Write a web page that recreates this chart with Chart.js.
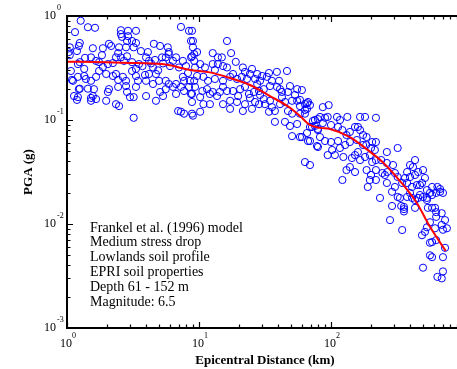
<!DOCTYPE html>
<html>
<head>
<meta charset="utf-8">
<script src="https://cdn.jsdelivr.net/npm/chart.js@4.4.0/dist/chart.umd.min.js"></script>
<style>
html, body { margin: 0; padding: 0; background: #fff; overflow: hidden; }
#wrap { width: 475px; height: 369px; }
</style>
</head>
<body>
<div id="wrap"><canvas id="pga" width="475" height="369"></canvas></div>
<script>
// recorded PGA values: [epicentral distance (km), PGA (g)]
const recordings = [
  [1.27,0.90],[1.44,0.78],[1.63,0.77],[1.15,0.70],[1.25,0.55],[1.23,0.515],[1.05,0.50],[1.05,0.42],[1.57,0.49],[1.87,0.49],
  [2.08,0.54],[2.16,0.515],[2.56,0.73],[2.56,0.67],[2.61,0.63],[2.9,0.72],[2.9,0.64],[2.85,0.575],[3.11,0.575],[3.33,0.72],
  [3.33,0.55],[3.2,0.50],[2.48,0.50],[2.44,0.44],[2.8,0.50],[3.63,0.46],[4.1,0.45],[4.55,0.54],[5.07,0.515],[5.8,0.50],
  [5.9,0.43],[7.3,0.785],[8.4,0.72],[8.7,0.575],[9.2,0.43],
  [1.07,0.296],[1.21,0.345],[1.35,0.31],[1.52,0.40],[1.66,0.37],[1.75,0.36],[1.87,0.323],[2.04,0.345],[2.35,0.40],[2.56,0.40],
  [2.7,0.37],[2.85,0.41],[3.11,0.36],[3.33,0.31],[3.51,0.345],[3.97,0.40],[4.18,0.37],[4.48,0.32],[4.9,0.30],[5.25,0.40],
  [5.6,0.40],[5.9,0.45],[6.35,0.37],[6.7,0.40],[7.55,0.37],[7.97,0.33],[8.7,0.40],[9.2,0.37],
  [1.11,0.238],[1.21,0.26],[1.35,0.265],[1.39,0.248],[1.52,0.238],[1.66,0.26],[1.75,0.296],[1.98,0.277],[2.23,0.265],[2.35,0.277],
  [2.65,0.26],[2.8,0.238],[3.11,0.296],[3.33,0.265],[3.45,0.238],[3.97,0.238],[4.18,0.277],[4.72,0.277],[4.98,0.238],[5.6,0.238],
  [5.9,0.222],[6.7,0.222],[7.55,0.26],[7.7,0.238],[8.4,0.208],[9.2,0.238],
  [1.23,0.198],[1.13,0.17],[1.21,0.166],[1.6,0.198],[1.57,0.17],[1.52,0.153],[1.66,0.159],[2.08,0.198],[2.04,0.186],[2.44,0.208],
  [2.8,0.212],[2.85,0.186],[3.33,0.208],[3.97,0.17],[4.72,0.153],[5.34,0.17],[5.6,0.198],[6.35,0.208],[6.7,0.178],[7.3,0.208],
  [7.7,0.19],[8.7,0.178],
  [1.98,0.153],[2.35,0.142],[2.48,0.136],[3.2,0.166],[6.95,0.122],[7.3,0.12],[7.7,0.115],[9.0,0.11],[3.2,0.105],
  [1.03,0.45],[1.19,0.46],[1.09,0.243],[1.25,0.20],[1.19,0.156],[1.52,0.163],[1.25,0.36],
  [3.73,0.33],[4.33,0.35],[5.34,0.35],[6.03,0.33],[7.05,0.32],[4.64,0.378],[8.25,0.283],
  [1.37,0.396],[1.84,0.42],[2.23,0.353],[3.9,0.271],[4.48,0.222],[5.07,0.186],[3.0,0.166],[2.44,0.243],[1.44,0.20],
  [8.85,0.72],[9.0,0.575],[16.3,0.575],[9.0,0.50],[9.67,0.45],[8.85,0.41],[12.7,0.44],[13.9,0.40],[14.9,0.40],[17.5,0.44],
  [12.7,0.345],[13.9,0.345],[15.2,0.33],[16.3,0.32],[10.2,0.345],[9.33,0.32],[11.1,0.32],[21.5,0.32],[25.2,0.31],[22.3,0.29],
  [33.9,0.283],[38.9,0.29],[46.4,0.296],[24.3,0.277],[27.6,0.277],[30.1,0.265],
  [8.55,0.238],[9.67,0.265],[10.8,0.26],[11.7,0.238],[13.2,0.248],[15.2,0.238],[17.2,0.26],[18.1,0.277],[19.4,0.248],[21.1,0.26],
  [23.1,0.248],[26.6,0.248],[29.0,0.238],[32.7,0.26],[35.7,0.238],[40.4,0.238],
  [9.33,0.208],[8.85,0.178],[10.6,0.19],[11.5,0.198],[12.1,0.178],[12.7,0.186],[13.7,0.17],[15.2,0.208],[16.3,0.19],[18.1,0.19],
  [20.5,0.198],[22.3,0.208],[23.9,0.178],[26.1,0.186],[28.5,0.19],[31.0,0.198],[34.5,0.212],[39.0,0.208],[41.1,0.198],[48.9,0.212],
  [55.4,0.198],[47.2,0.186],
  [10.2,0.166],[13.2,0.303],[19.0,0.362],[27.6,0.222],[42.5,0.186],[53.4,0.174],
  [8.85,0.149],[10.8,0.142],[12.1,0.142],[15.2,0.142],[17.2,0.153],[17.2,0.128],[19.4,0.149],[21.5,0.122],[22.3,0.142],[25.2,0.128],
  [26.6,0.149],[28.5,0.142],[31.0,0.159],[31.6,0.142],[34.5,0.153],[35.7,0.133],[37.6,0.122],[42.5,0.166],[44.8,0.149],[50.7,0.153],
  [55.4,0.153],[58.2,0.136],[63.5,0.142],[67.0,0.149],[65.8,0.128],[47.2,0.122],[50.7,0.115],[58.2,0.115],[63.5,0.115],[73.0,0.098],
  [79.6,0.102],[69.3,0.0857],[75.6,0.0876],[79.6,0.082],[8.85,0.115],[10.2,0.12],[37.6,0.096],[44.8,0.096],[48.9,0.0876],[55.4,0.0915],
  [50.7,0.070],[58.2,0.0686],[67.0,0.0628],[78.3,0.0562],[63.5,0.0394],[69.3,0.0369],
  [60.2,0.194],[65.8,0.145],[86.7,0.133],[96,0.139],[75.6,0.10],[82.5,0.107],[90.1,0.105],[94.4,0.107],[111,0.107],[117,0.10],
  [133,0.107],[166,0.107],[181,0.107],[219,0.105],[71.8,0.0857],[79.6,0.080],[86.7,0.0935],[100,0.0895],[113,0.0857],[122,0.080],
  [139,0.0767],[152,0.0857],[160,0.0857],[166,0.080],[175,0.0717],[186,0.0686],[65.8,0.075],[60.2,0.0686],
  [69.3,0.0628],[79.6,0.055],[90.1,0.0628],[100,0.0614],[113,0.0628],[131,0.0717],[139,0.0614],[157,0.0642],[175,0.0575],[185,0.0575],
  [205,0.0614],[219,0.0614],[201,0.0538],[215,0.0515],[265,0.0492],[320,0.0538],[117,0.0538],[102,0.0515],
  [82.5,0.0686],[128,0.0575],[166,0.0412],
  [94.4,0.046],[107,0.046],[124,0.0441],[144,0.0431],[152,0.046],[160,0.0492],[181,0.0441],[197,0.046],[205,0.0394],[219,0.0412],
  [240,0.0412],[265,0.0386],[295,0.0369],[433,0.0412],[418,0.0353],
  [131,0.033],[139,0.0353],[152,0.0316],[186,0.033],[201,0.0296],[219,0.033],[245,0.0309],[267,0.0316],[305,0.0309],[320,0.0283],
  [377,0.0316],[397,0.0283],[433,0.0296],[457,0.0316],[498,0.033],[515,0.0277],
  [256,0.0296],[397,0.0369],[472,0.0237],[290,0.0204],
  [122,0.0265],[197,0.0265],[219,0.0265],[265,0.0248],[305,0.0227],[346,0.0248],[364,0.0277],[377,0.0248],[411,0.0227],[447,0.0237],
  [489,0.0248],[533,0.0212],[583,0.0227],[670,0.0217],[705,0.0199],[626,0.0199],[583,0.019],
  [190,0.0227],[235,0.0178],[320,0.0182],[397,0.0199],[433,0.017],[457,0.0178],[472,0.019],[498,0.0182],[533,0.017],[290,0.0149],
  [340,0.0149],[433,0.0143],[614,0.0143],
  [280,0.0109],[346,0.00875],[357,0.0146],[357,0.0139],[357,0.0132],[333,0.0178],[377,0.0182],[411,0.0178],[533,0.0178],[562,0.0199],
  [670,0.0204],[640,0.0227],[542,0.0143],[583,0.0143],[626,0.013],[690,0.0127],[626,0.0117],[731,0.0109],[690,0.0098],[755,0.0091],
  [562,0.0104],[533,0.0093],[489,0.0078],[515,0.0084],[614,0.0091],[705,0.0088],[562,0.0066],[583,0.0067],[626,0.0070],[731,0.0059],
  [562,0.0050],[583,0.0048],[705,0.0048],[498,0.0038],[705,0.0035],[640,0.0031],[690,0.0030],
  [58.2,0.156],[63.5,0.125],[69.3,0.139],[29.0,0.174],[24.3,0.163],[41.1,0.142],[33.9,0.12],[19.8,0.17],[14.4,0.186]
];

// Frankel et al. (1996) model curve
const modelDistance = [1, 1.97, 3.33, 5.6, 8.55, 12.1, 17.2, 24.3, 34.5, 48.9, 58.2, 69.3, 82.5, 98.3, 139, 186, 250, 333, 447, 562, 740];
const modelPga = [0.364, 0.36, 0.353, 0.341, 0.303, 0.287, 0.253, 0.217, 0.170, 0.131, 0.109, 0.0895, 0.084, 0.082, 0.0686, 0.0525, 0.0386, 0.0259, 0.0159, 0.0094, 0.0055];

const xDecades = [1, 10, 100, 1000];
const yDecades = [0.001, 0.01, 0.1, 1];

const notes = [
  'Frankel et al. (1996) model',
  'Medium stress drop',
  'Lowlands soil profile',
  'EPRI soil properties',
  'Depth 61 - 152 m',
  'Magnitude: 6.5'
];

const serif = "'Liberation Serif', 'Times New Roman', serif";

function powerLabel(ctx, exp, x, y, supX, supY, align) {
  ctx.font = '12px ' + serif;
  ctx.textAlign = align;
  ctx.textBaseline = 'middle';
  ctx.fillText('10', x, y);
  ctx.font = '8px ' + serif;
  ctx.textAlign = 'left';
  ctx.fillText(String(exp), supX, supY);
}

// axes box, inward ticks, labels and text
const frame = {
  id: 'frame',
  afterDraw(chart) {
    const ctx = chart.ctx;
    const a = chart.chartArea;
    const xs = chart.scales.x, ys = chart.scales.y;
    ctx.save();
    ctx.strokeStyle = '#000';
    ctx.fillStyle = '#000';
    ctx.lineWidth = 1.2;

    // x ticks (bottom and top)
    xDecades.forEach((d, i) => {
      const steps = i < xDecades.length - 1 ? 9 : 1;
      for (let m = 1; m <= steps; m++) {
        const px = Math.round(xs.getPixelForValue(d * m)) + 0.5;
        const len = m === 1 ? 6 : 3.5;
        ctx.beginPath();
        ctx.moveTo(px, a.bottom); ctx.lineTo(px, a.bottom - len);
        ctx.moveTo(px, a.top); ctx.lineTo(px, a.top + len);
        ctx.stroke();
      }
    });
    // y ticks (left and right)
    yDecades.forEach((d, i) => {
      const steps = i < yDecades.length - 1 ? 9 : 1;
      for (let m = 1; m <= steps; m++) {
        const py = Math.round(ys.getPixelForValue(d * m)) + 0.5;
        const len = m === 1 ? 6 : 3.5;
        ctx.beginPath();
        ctx.moveTo(a.left, py); ctx.lineTo(a.left + len, py);
        ctx.moveTo(a.right, py); ctx.lineTo(a.right - len, py);
        ctx.stroke();
      }
    });

    ctx.lineWidth = 2;
    ctx.strokeRect(a.left, a.top, a.right - a.left, a.bottom - a.top);

    // tick labels
    xDecades.forEach(d => {
      const px = xs.getPixelForValue(d);
      powerLabel(ctx, Math.round(Math.log10(d)), px - 1, 344, px + 5, 336, 'center');
    });
    yDecades.forEach(d => {
      const py = ys.getPixelForValue(d);
      powerLabel(ctx, Math.round(Math.log10(d)), 56, py, 57, py - 8, 'right');
    });

    // axis titles
    ctx.font = 'bold 13px ' + serif;
    ctx.textAlign = 'center';
    ctx.textBaseline = 'middle';
    ctx.fillText('Epicentral Distance (km)', (a.left + a.right) / 2, 361);
    ctx.save();
    ctx.translate(29, (a.top + a.bottom) / 2);
    ctx.rotate(-Math.PI / 2);
    ctx.fillText('PGA (g)', 0, 0);
    ctx.restore();

    // notes
    ctx.font = '14px ' + serif;
    ctx.textAlign = 'left';
    notes.forEach((t, i) => ctx.fillText(t, 90, 228 + i * 14.8));
    ctx.restore();
  }
};

new Chart(document.getElementById('pga'), {
  type: 'scatter',
  data: {
    datasets: [
      {
        label: 'model',
        data: modelDistance.map((d, i) => ({ x: d, y: modelPga[i] })),
        showLine: true,
        borderColor: '#ff0000',
        borderWidth: 2,
        pointRadius: 0,
        cubicInterpolationMode: 'monotone'
      },
      {
        label: 'recordings',
        data: recordings.map(r => ({ x: r[0], y: r[1] })),
        borderColor: '#0000ff',
        backgroundColor: 'rgba(0,0,0,0)',
        borderWidth: 1,
        pointRadius: 3.6
      }
    ]
  },
  options: {
    responsive: false,
    animation: false,
    layout: { padding: { left: 67, top: 16, right: 12, bottom: 41 } },
    scales: {
      x: { type: 'logarithmic', min: 1, max: 1000, display: false },
      y: { type: 'logarithmic', min: 0.001, max: 1, display: false }
    },
    plugins: { legend: { display: false }, tooltip: { enabled: false } }
  },
  plugins: [frame]
});
</script>
</body>
</html>
